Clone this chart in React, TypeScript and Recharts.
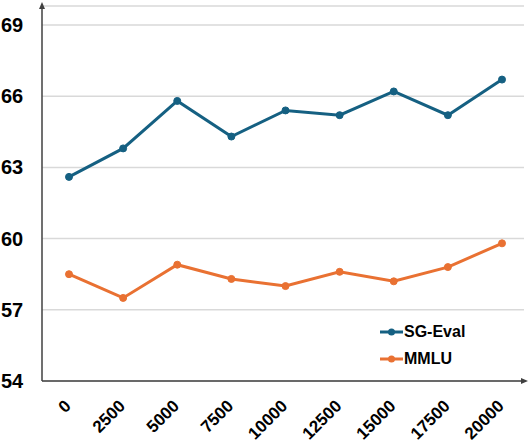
import React from 'react'
import { LineChart, Line, XAxis, YAxis, CartesianGrid, Legend } from 'recharts'

const steps = ['0', '2500', '5000', '7500', '10000', '12500', '15000', '17500', '20000']
const sgEval = [62.6, 63.8, 65.8, 64.3, 65.4, 65.2, 66.2, 65.2, 66.7]
const mmlu = [58.5, 57.5, 58.9, 58.3, 58.0, 58.6, 58.2, 58.8, 59.8]
const yTicks = [54, 57, 60, 63, 66, 69]
const seriesNames = ['SG-Eval', 'MMLU']

const BLUE = '#156082'
const ORANGE = '#E97132'
const FONT = '"Liberation Sans", Arial, sans-serif'

const data = steps.map((step, i) => ({ step, sgEval: sgEval[i], mmlu: mmlu[i] }))

const YTick = ({ y, payload }: any) => (
  <text x={1} y={y} dy={7} textAnchor="start" fontSize={20} fontWeight={700} fontFamily={FONT} fill="#000">
    {payload.value}
  </text>
)

const XTick = ({ x, y, payload }: any) => (
  <text
    x={x + 3}
    y={y + 18}
    textAnchor="end"
    fontSize={17}
    fontWeight={700}
    fontFamily={FONT}
    fill="#000"
    transform={`rotate(-45, ${x + 3}, ${y + 18})`}
  >
    {payload.value}
  </text>
)

const LegendContent = ({ payload }: any) => {
  const items = [...(payload || [])].sort(
    (a: any, b: any) => seriesNames.indexOf(a.value) - seriesNames.indexOf(b.value)
  )
  return (
    <div style={{ fontFamily: FONT, fontSize: 16, fontWeight: 700 }}>
      {items.map((p: any) => (
        <div key={p.value} style={{ display: 'flex', alignItems: 'center', height: 27 }}>
          <svg width={23} height={10} style={{ marginRight: 1 }}>
            <line x1={0} y1={5} x2={23} y2={5} stroke={p.color} strokeWidth={3} />
            <circle cx={11.5} cy={5} r={3.5} fill={p.color} />
          </svg>
          <span>{p.value}</span>
        </div>
      ))}
    </div>
  )
}

export default function App() {
  return (
    <div style={{ position: 'absolute', left: 0, top: 0, width: 530, height: 446, background: '#fff' }}>
      <svg width={0} height={0} style={{ position: 'absolute' }}>
        <defs>
          <marker id="axisArrow" markerUnits="userSpaceOnUse" markerWidth={8} markerHeight={8} refX={3} refY={3} orient="auto-start-reverse">
            <path d="M0,0 L7,3 L0,6 z" fill="#404040" />
          </marker>
        </defs>
      </svg>
      <LineChart width={530} height={446} data={data} margin={{ top: 6, right: 6, bottom: 0, left: 0 }}>
        <CartesianGrid horizontal vertical={false} stroke="#d9d9d9" strokeWidth={1.5} />
        <XAxis
          dataKey="step"
          height={65}
          padding={{ left: 27, right: 22 }}
          interval={0}
          tickLine={false}
          axisLine={{ stroke: '#404040', strokeWidth: 1.5, markerEnd: 'url(#axisArrow)' }}
          tick={<XTick />}
        />
        <YAxis
          width={42}
          domain={[54, 69.8]}
          ticks={yTicks}
          allowDataOverflow
          tickLine={false}
          axisLine={{ stroke: '#404040', strokeWidth: 1.5, markerStart: 'url(#axisArrow)' }}
          tick={<YTick />}
        />
        <Legend
          layout="horizontal"
          align="center"
          verticalAlign="middle"
          content={<LegendContent />}
          wrapperStyle={{ position: 'absolute', left: 380, top: 318, width: 120 }}
        />
        <Line
          dataKey="sgEval"
          name="SG-Eval"
          stroke={BLUE}
          strokeWidth={3}
          dot={{ r: 3.5, fill: BLUE, stroke: BLUE, strokeWidth: 1 }}
          activeDot={false}
          isAnimationActive={false}
        />
        <Line
          dataKey="mmlu"
          name="MMLU"
          stroke={ORANGE}
          strokeWidth={3}
          dot={{ r: 3.5, fill: ORANGE, stroke: ORANGE, strokeWidth: 1 }}
          activeDot={false}
          isAnimationActive={false}
        />
      </LineChart>
    </div>
  )
}
